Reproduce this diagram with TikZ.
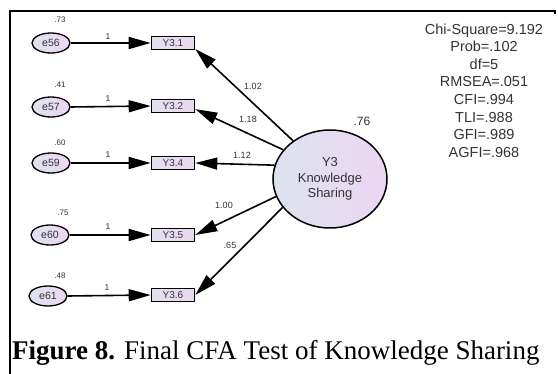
\documentclass[tikz,border=0pt]{standalone}
\usepackage{fontspec}
\setmainfont{Liberation Sans}
\newfontfamily\capfont{Liberation Serif}
\usetikzlibrary{arrows.meta,shapes.geometric}
\definecolor{txt}{HTML}{333333}
\definecolor{ellA}{HTML}{DDE3EE}
\definecolor{ellB}{HTML}{ECD6F2}
\definecolor{boxA}{HTML}{E2E0EE}
\definecolor{boxB}{HTML}{EAD8F0}
\tikzset{
  errell/.style={ellipse, draw=black, line width=1.3pt, minimum width=38pt, minimum height=20pt, inner sep=0pt,
    left color=ellA, right color=ellB, text=txt, font=\fontsize{10.5}{12}\selectfont},
  obsbox/.style={rectangle, draw=black, line width=1.6pt, minimum width=43pt, minimum height=13pt, inner sep=0pt,
    left color=boxA, right color=boxB, text=txt, font=\fontsize{10}{12}\selectfont},
  latell/.style={ellipse, draw=black, line width=1.5pt, minimum width=114pt, minimum height=98pt, inner sep=0pt,
    left color=ellA, right color=ellB, text=txt, align=center, font=\fontsize{13}{15.5}\selectfont},
  varlab/.style={text=txt, inner sep=0pt, font=\fontsize{8}{9}\selectfont},
  onelab/.style={text=txt, inner sep=0pt, font=\fontsize{8.5}{9}\selectfont},
  loadlab/.style={text=txt, inner sep=0pt, font=\fontsize{9}{10}\selectfont},
  arr/.style={line width=1.6pt, -{Triangle[length=22pt,width=12pt]}},
}
\begin{document}
\begin{tikzpicture}[x=1pt,y=-1pt]
\useasboundingbox (0,0) rectangle (558,374);
\fill[white] (0,0) rectangle (558,374);
% frame
\draw[line width=1.5pt] (10,374) -- (10,11) -- (555,11) -- (555,14);

% error terms
\node[errell] (e56) at (51,43) {e56};
\node[errell] (e57) at (51,107) {e57};
\node[errell] (e59) at (51,163) {e59};
\node[errell] (e60) at (50,235) {e60};
\node[errell] (e61) at (48,296) {e61};

% observed
\node[obsbox] (b1) at (173,43) {Y3.1};
\node[obsbox] (b2) at (173,106) {Y3.2};
\node[obsbox] (b4) at (173,163) {Y3.4};
\node[obsbox] (b5) at (173,235) {Y3.5};
\node[obsbox] (b6) at (173,295) {Y3.6};

% latent
\node[latell] (Y3) at (330,179) {Y3\\Knowledge\\Sharing};

% variances
\node[varlab] (v56) at (60,20) {.73};
\node[varlab] (v57) at (60,85) {.41};
\node[varlab] (v59) at (60,143) {.60};
\node[varlab] (v60) at (63,213) {.75};
\node[varlab] (v61) at (60,276) {.48};
\node[txt, inner sep=0pt, font=\fontsize{12}{13}\selectfont] (vY3) at (362,121) {.76};

% error paths
\draw[arr] (e56.east) -- (b1.west);
\draw[arr] (e57.east) -- (b2.west);
\draw[arr] (e59.east) -- (b4.west);
\draw[arr] (e60.east) -- (b5.west);
\draw[arr] (e61.east) -- (b6.west);
\node[onelab] (o56) at (108,37) {1};
\node[onelab] (o57) at (108,99) {1};
\node[onelab] (o59) at (108,155) {1};
\node[onelab] (o60) at (108,227) {1};
\node[onelab] (o61) at (107,288) {1};

% loadings
\draw[arr] (Y3.134) -- (b1.-15);
\draw[arr] (Y3.148) -- (b2.-8);
\draw[arr] (Y3.166) -- (b4.east);
\draw[arr] (Y3.198) -- (b5.east);
\draw[arr] (Y3.211) -- (b6.east);
\node[loadlab] (l1) at (253,86) {1.02};
\node[loadlab] (l2) at (248,119) {1.18};
\node[loadlab] (l4) at (242,155) {1.12};
\node[loadlab] (l5) at (224,205) {1.00};
\node[loadlab] (l6) at (230,245) {.65};

% fit statistics
\node[text=txt, align=center, inner sep=0pt, font=\fontsize{14.5}{17.6}\selectfont] (fit) at (484,90.5)
  {Chi-Square=9.192\\Prob=.102\\df=5\\RMSEA=.051\\CFI=.994\\TLI=.988\\GFI=.989\\AGFI=.968};

% caption
\node[anchor=base west, inner sep=0pt, font=\capfont\fontsize{27}{30}\selectfont] (cap) at (12,360)
  {\textbf{Figure 8.} Final CFA Test of Knowledge Sharing};
\end{tikzpicture}
\end{document}
